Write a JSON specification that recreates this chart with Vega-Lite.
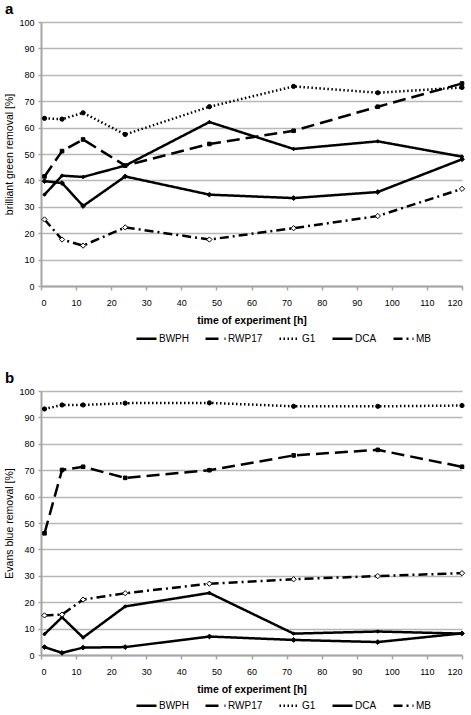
{
  "$schema": "https://vega.github.io/schema/vega-lite/v6.json",
  "background": "white",
  "padding": {"left": 4, "top": 2, "right": 2, "bottom": 0},
  "spacing": 27,
  "config": {
    "font": "Liberation Sans",
    "view": {"stroke": null},
    "axis": {
      "labelFont": "Liberation Sans",
      "titleFont": "Liberation Sans",
      "labelFontSize": 9,
      "labelColor": "#000",
      "titleColor": "#000",
      "domainColor": "#a6a6a6",
      "domainWidth": 2,
      "tickColor": "#a6a6a6",
      "tickWidth": 1.5,
      "gridColor": "#b8b8b8",
      "gridWidth": 1.5
    },
    "legend": {
      "labelFont": "Liberation Sans",
      "labelFontSize": 10,
      "labelColor": "#000",
      "symbolType": "stroke",
      "symbolStrokeColor": "#000",
      "symbolSize": 400,
      "columnPadding": 11,
      "labelOffset": 1
    },
    "title": {"font": "Liberation Sans", "fontSize": 15, "fontWeight": "bold", "color": "#000", "anchor": "start"}
  },
  "datasets": {
    "a": [
      {"series": "BWPH", "t": 1, "v": 34.6}, {"series": "BWPH", "t": 6, "v": 41.8}, {"series": "BWPH", "t": 12, "v": 41.3}, {"series": "BWPH", "t": 24, "v": 45.6},
      {"series": "BWPH", "t": 48, "v": 62.1}, {"series": "BWPH", "t": 72, "v": 51.9}, {"series": "BWPH", "t": 96, "v": 54.8}, {"series": "BWPH", "t": 120, "v": 49.0},
      {"series": "RWP17", "t": 1, "v": 41.5}, {"series": "RWP17", "t": 6, "v": 51.1}, {"series": "RWP17", "t": 12, "v": 55.5}, {"series": "RWP17", "t": 24, "v": 45.6},
      {"series": "RWP17", "t": 48, "v": 53.8}, {"series": "RWP17", "t": 72, "v": 58.8}, {"series": "RWP17", "t": 96, "v": 67.9}, {"series": "RWP17", "t": 120, "v": 76.7},
      {"series": "G1", "t": 1, "v": 63.5}, {"series": "G1", "t": 6, "v": 63.2}, {"series": "G1", "t": 12, "v": 65.6}, {"series": "G1", "t": 24, "v": 57.4},
      {"series": "G1", "t": 48, "v": 67.9}, {"series": "G1", "t": 72, "v": 75.6}, {"series": "G1", "t": 96, "v": 73.2}, {"series": "G1", "t": 120, "v": 75.2},
      {"series": "DCA", "t": 1, "v": 39.7}, {"series": "DCA", "t": 6, "v": 39.0}, {"series": "DCA", "t": 12, "v": 30.3}, {"series": "DCA", "t": 24, "v": 41.5},
      {"series": "DCA", "t": 48, "v": 34.6}, {"series": "DCA", "t": 72, "v": 33.3}, {"series": "DCA", "t": 96, "v": 35.6}, {"series": "DCA", "t": 120, "v": 48.0},
      {"series": "MB", "t": 1, "v": 25.2}, {"series": "MB", "t": 6, "v": 17.6}, {"series": "MB", "t": 12, "v": 15.3}, {"series": "MB", "t": 24, "v": 22.2},
      {"series": "MB", "t": 48, "v": 17.6}, {"series": "MB", "t": 72, "v": 21.9}, {"series": "MB", "t": 96, "v": 26.5}, {"series": "MB", "t": 120, "v": 36.8}
    ],
    "b": [
      {"series": "BWPH", "t": 1, "v": 7.9}, {"series": "BWPH", "t": 6, "v": 14.3}, {"series": "BWPH", "t": 12, "v": 6.6}, {"series": "BWPH", "t": 24, "v": 18.4},
      {"series": "BWPH", "t": 48, "v": 23.5}, {"series": "BWPH", "t": 72, "v": 8.1}, {"series": "BWPH", "t": 96, "v": 8.9}, {"series": "BWPH", "t": 120, "v": 8.1},
      {"series": "RWP17", "t": 1, "v": 46.1}, {"series": "RWP17", "t": 6, "v": 70.1}, {"series": "RWP17", "t": 12, "v": 71.3}, {"series": "RWP17", "t": 24, "v": 67.1},
      {"series": "RWP17", "t": 48, "v": 70.0}, {"series": "RWP17", "t": 72, "v": 75.6}, {"series": "RWP17", "t": 96, "v": 77.7}, {"series": "RWP17", "t": 120, "v": 71.3},
      {"series": "G1", "t": 1, "v": 93.2}, {"series": "G1", "t": 6, "v": 94.7}, {"series": "G1", "t": 12, "v": 94.7}, {"series": "G1", "t": 24, "v": 95.4},
      {"series": "G1", "t": 48, "v": 95.5}, {"series": "G1", "t": 72, "v": 94.2}, {"series": "G1", "t": 96, "v": 94.2}, {"series": "G1", "t": 120, "v": 94.5},
      {"series": "DCA", "t": 1, "v": 3.0}, {"series": "DCA", "t": 6, "v": 0.8}, {"series": "DCA", "t": 12, "v": 2.8}, {"series": "DCA", "t": 24, "v": 3.0},
      {"series": "DCA", "t": 48, "v": 7.0}, {"series": "DCA", "t": 72, "v": 5.7}, {"series": "DCA", "t": 96, "v": 4.9}, {"series": "DCA", "t": 120, "v": 8.2},
      {"series": "MB", "t": 1, "v": 15.0}, {"series": "MB", "t": 6, "v": 15.3}, {"series": "MB", "t": 12, "v": 21.0}, {"series": "MB", "t": 24, "v": 23.4},
      {"series": "MB", "t": 48, "v": 27.0}, {"series": "MB", "t": 72, "v": 28.7}, {"series": "MB", "t": 96, "v": 29.9}, {"series": "MB", "t": 120, "v": 31.0}
    ]
  },
  "resolve": {"legend": {"strokeDash": "independent", "strokeWidth": "independent"}, "scale": {"x": "independent", "y": "independent"}},
  "vconcat": [
    {
      "title": {"text": "a", "offset": 1},
      "width": 421,
      "height": 264,
      "data": {"name": "a"},
      "encoding": {
        "x": {"field": "t", "type": "quantitative", "scale": {"domain": [0, 120], "nice": false},
          "axis": {"title": "time of experiment [h]", "values": [0, 10, 20, 30, 40, 50, 60, 70, 80, 90, 100, 110, 120], "grid": false, "tickSize": 4, "labelPadding": 8, "titleFontSize": 10.5, "titleFontWeight": "bold", "titlePadding": 8}},
        "y": {"field": "v", "type": "quantitative", "scale": {"domain": [0, 100], "nice": false},
          "axis": {"title": "brilliant green removal [%]", "values": [0, 10, 20, 30, 40, 50, 60, 70, 80, 90, 100], "tickSize": 3, "labelPadding": 4, "titleFontSize": 10.5, "titleFontWeight": "normal", "titlePadding": 4}}
      },
      "layer": [
        {
          "mark": {"type": "line", "color": "#000"},
          "encoding": {
            "strokeDash": {"field": "series", "type": "nominal", "sort": ["BWPH", "RWP17", "G1", "DCA", "MB"],
              "scale": {"domain": ["BWPH", "RWP17", "G1", "DCA", "MB"], "range": [[1, 0], [13, 6], [1.5, 2.5], [1, 0], [9, 4, 2, 4]]},
              "legend": {"orient": "none", "direction": "horizontal", "title": null, "legendX": 94, "legendY": 305}},
            "strokeWidth": {"field": "series", "type": "nominal", "sort": ["BWPH", "RWP17", "G1", "DCA", "MB"],
              "scale": {"domain": ["BWPH", "RWP17", "G1", "DCA", "MB"], "range": [2.5, 2.5, 2, 2, 2]},
              "legend": {"orient": "none", "direction": "horizontal", "title": null, "legendX": 94, "legendY": 305}}
          }
        },
        {
          "mark": {"type": "point", "filled": true, "stroke": "#000", "strokeWidth": 1, "opacity": 1},
          "encoding": {
            "shape": {"field": "series", "type": "nominal", "scale": {"domain": ["BWPH", "RWP17", "G1", "DCA", "MB"], "range": ["cross", "square", "circle", "diamond", "diamond"]}, "legend": null},
            "size": {"field": "series", "type": "nominal", "scale": {"domain": ["BWPH", "RWP17", "G1", "DCA", "MB"], "range": [8, 28, 16, 20, 24]}, "legend": null},
            "fill": {"field": "series", "type": "nominal", "scale": {"domain": ["BWPH", "RWP17", "G1", "DCA", "MB"], "range": ["#000", "#000", "#000", "#000", "#fff"]}, "legend": null}
          }
        }
      ]
    },
    {
      "title": {"text": "b", "offset": 1},
      "width": 421,
      "height": 264,
      "data": {"name": "b"},
      "encoding": {
        "x": {"field": "t", "type": "quantitative", "scale": {"domain": [0, 120], "nice": false},
          "axis": {"title": "time of experiment [h]", "values": [0, 10, 20, 30, 40, 50, 60, 70, 80, 90, 100, 110, 120], "grid": false, "tickSize": 4, "labelPadding": 8, "titleFontSize": 10.5, "titleFontWeight": "bold", "titlePadding": 8}},
        "y": {"field": "v", "type": "quantitative", "scale": {"domain": [0, 100], "nice": false},
          "axis": {"title": "Evans blue removal [%]", "values": [0, 10, 20, 30, 40, 50, 60, 70, 80, 90, 100], "tickSize": 3, "labelPadding": 4, "titleFontSize": 10.5, "titleFontWeight": "normal", "titlePadding": 4}}
      },
      "layer": [
        {
          "mark": {"type": "line", "color": "#000"},
          "encoding": {
            "strokeDash": {"field": "series", "type": "nominal", "sort": ["BWPH", "RWP17", "G1", "DCA", "MB"],
              "scale": {"domain": ["BWPH", "RWP17", "G1", "DCA", "MB"], "range": [[1, 0], [13, 6], [1.5, 2.5], [1, 0], [9, 4, 2, 4]]},
              "legend": {"orient": "none", "direction": "horizontal", "title": null, "legendX": 94, "legendY": 303}},
            "strokeWidth": {"field": "series", "type": "nominal", "sort": ["BWPH", "RWP17", "G1", "DCA", "MB"],
              "scale": {"domain": ["BWPH", "RWP17", "G1", "DCA", "MB"], "range": [2.5, 2.5, 2, 2, 2]},
              "legend": {"orient": "none", "direction": "horizontal", "title": null, "legendX": 94, "legendY": 303}}
          }
        },
        {
          "mark": {"type": "point", "filled": true, "stroke": "#000", "strokeWidth": 1, "opacity": 1},
          "encoding": {
            "shape": {"field": "series", "type": "nominal", "scale": {"domain": ["BWPH", "RWP17", "G1", "DCA", "MB"], "range": ["cross", "square", "circle", "diamond", "diamond"]}, "legend": null},
            "size": {"field": "series", "type": "nominal", "scale": {"domain": ["BWPH", "RWP17", "G1", "DCA", "MB"], "range": [8, 28, 16, 20, 24]}, "legend": null},
            "fill": {"field": "series", "type": "nominal", "scale": {"domain": ["BWPH", "RWP17", "G1", "DCA", "MB"], "range": ["#000", "#000", "#000", "#000", "#fff"]}, "legend": null}
          }
        }
      ]
    }
  ]
}
